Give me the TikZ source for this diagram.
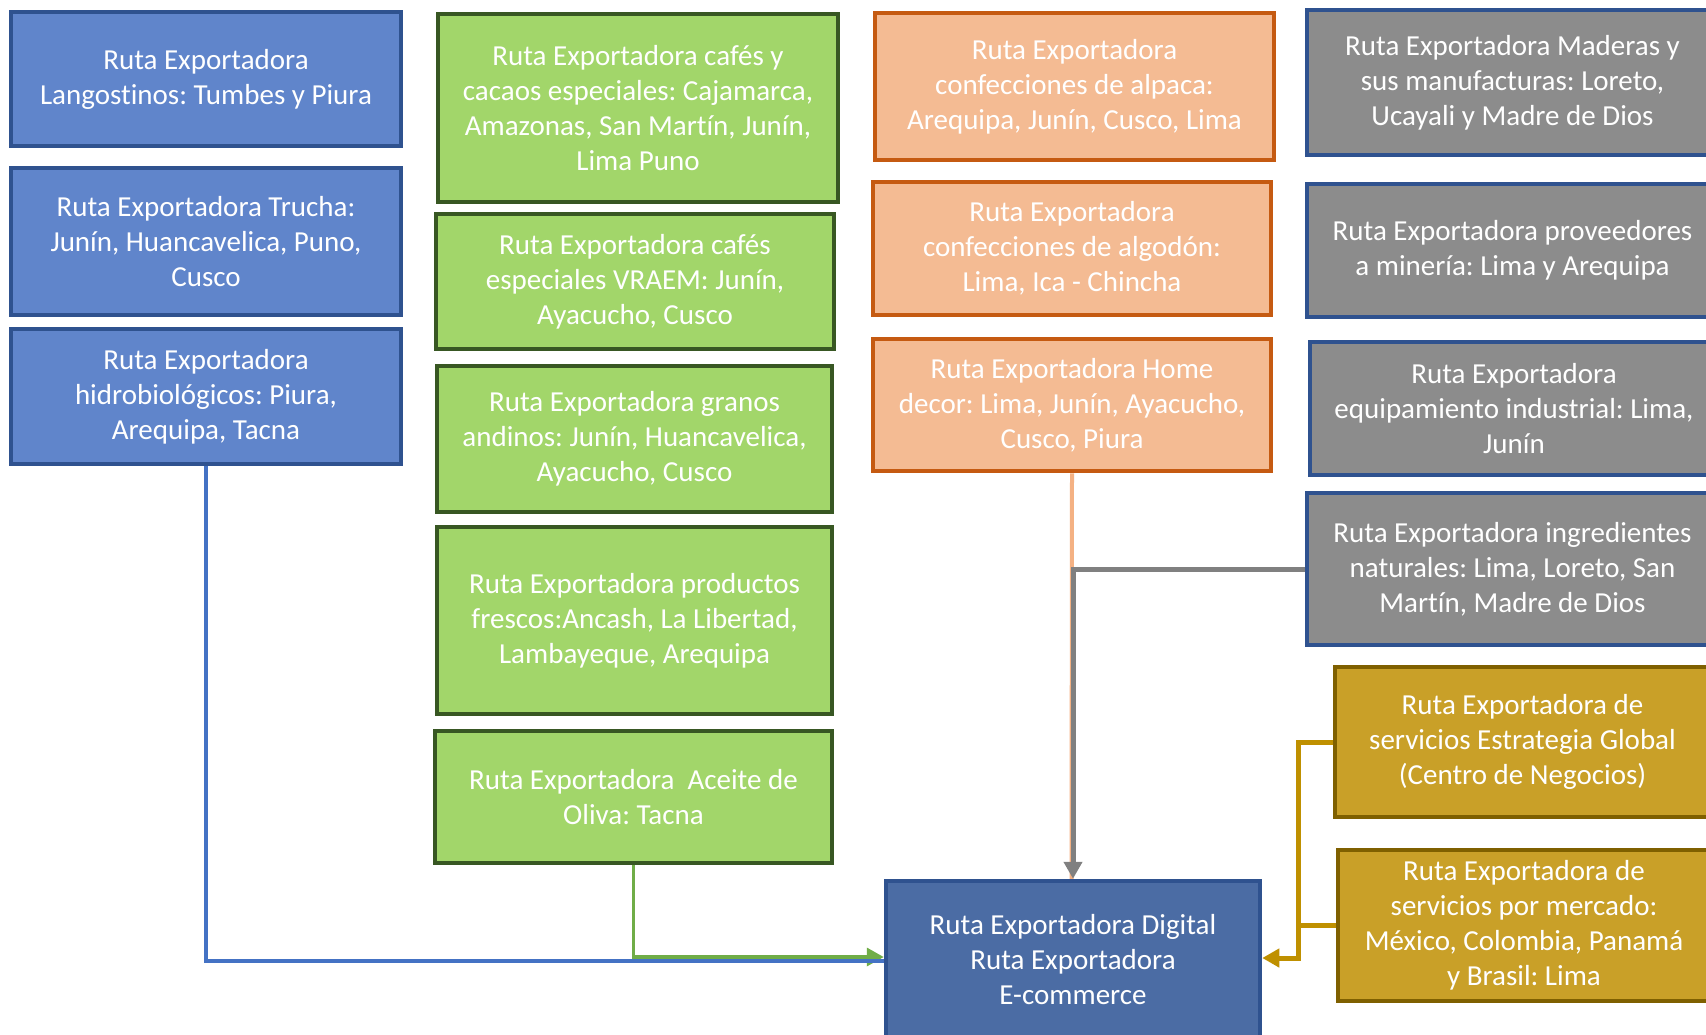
\documentclass[tikz,border=0pt]{standalone}
\usepackage{fontspec}
\setmainfont[Ligatures=NoCommon]{Carlito}
\frenchspacing
\usetikzlibrary{arrows.meta}
\definecolor{bfill}{HTML}{6085CB}
\definecolor{bdraw}{HTML}{2F528F}
\definecolor{tfill}{HTML}{4B6CA4}
\definecolor{gfill}{HTML}{A2D66A}
\definecolor{gdraw}{HTML}{385723}
\definecolor{ofill}{HTML}{F4BB93}
\definecolor{odraw}{HTML}{C55A11}
\definecolor{yfill}{HTML}{8C8C8C}
\definecolor{kfill}{HTML}{C9A028}
\definecolor{kdraw}{HTML}{7F6000}
\definecolor{cblue}{HTML}{4472C4}
\definecolor{cgreen}{HTML}{70AD47}
\definecolor{corange}{HTML}{F4B183}
\definecolor{cgray}{HTML}{808080}
\definecolor{cgold}{HTML}{BF9000}
\tikzset{
  rbox/.style={draw, line width=4.5pt, text=white, align=center, inner sep=0pt,
    font=\fontsize{29}{35}\selectfont\frenchspacing},
  bluebox/.style={rbox, fill=bfill, draw=bdraw},
  tgtbox/.style={rbox, fill=tfill, draw=bdraw},
  greenbox/.style={rbox, fill=gfill, draw=gdraw},
  orangebox/.style={rbox, fill=ofill, draw=odraw},
  graybox/.style={rbox, fill=yfill, draw=bdraw},
  goldbox/.style={rbox, fill=kfill, draw=kdraw},
  conn/.style={line width=#1},
  tip/.style={-{Triangle[length=17pt,width=18pt]}},
}
\begin{document}
\begin{tikzpicture}[x=1pt,y=-1pt]
\useasboundingbox (0,0) rectangle (1706,1034);
\clip (0,0) rectangle (1706,1034);
\fill[white] (0,0) rectangle (1706,1034);
% blue column
\node[bluebox, minimum width=390pt, minimum height=134pt] (b1) at (206,79) {Ruta Exportadora\\Langostinos: Tumbes y Piura};
\node[bluebox, minimum width=390pt, minimum height=147pt] (b2) at (206,241.5) {Ruta Exportadora Trucha:\\Junín, Huancavelica, Puno,\\Cusco};
\node[bluebox, minimum width=390pt, minimum height=135pt] (b3) at (206,396.5) {Ruta Exportadora\\hidrobiológicos: Piura,\\Arequipa, Tacna};
% green column
\node[greenbox, minimum width=400pt, minimum height=188pt] (g1) at (638,108) {Ruta Exportadora cafés y\\cacaos especiales: Cajamarca,\\Amazonas, San Martín, Junín,\\Lima Puno};
\node[greenbox, minimum width=398pt, minimum height=135pt] (g2) at (635,281.5) {Ruta Exportadora cafés\\especiales VRAEM: Junín,\\Ayacucho, Cusco};
\node[greenbox, minimum width=395pt, minimum height=146pt] (g3) at (634.5,439) {Ruta Exportadora granos\\andinos: Junín, Huancavelica,\\Ayacucho, Cusco};
\node[greenbox, minimum width=395pt, minimum height=187pt] (g4) at (634.5,620.5) {Ruta Exportadora productos\\frescos:Ancash, La Libertad,\\Lambayeque, Arequipa};
\node[greenbox, minimum width=397pt, minimum height=132pt] (g5) at (633.5,797) {Ruta Exportadora\ \ Aceite de\\Oliva: Tacna};
% orange column
\node[orangebox, minimum width=399pt, minimum height=147pt] (o1) at (1074.5,86.5) {Ruta Exportadora\\confecciones de alpaca:\\Arequipa, Junín, Cusco, Lima};
\node[orangebox, minimum width=398pt, minimum height=133pt] (o2) at (1072,248.5) {Ruta Exportadora\\confecciones de algodón:\\Lima, Ica - Chincha};
\node[orangebox, minimum width=398pt, minimum height=132pt] (o3) at (1072,405) {Ruta Exportadora Home\\decor: Lima, Junín, Ayacucho,\\Cusco, Piura};
% gray column
\node[graybox, minimum width=411pt, minimum height=145pt] (y1) at (1512.5,82.5) {Ruta Exportadora Maderas y\\sus manufacturas: Loreto,\\Ucayali y Madre de Dios};
\node[graybox, minimum width=411pt, minimum height=133pt] (y2) at (1512.5,250.5) {Ruta Exportadora proveedores\\a minería: Lima y Arequipa};
\node[graybox, minimum width=408pt, minimum height=133pt] (y3) at (1514,408.5) {Ruta Exportadora\\equipamiento industrial: Lima,\\Junín};
\node[graybox, minimum width=411pt, minimum height=152pt] (y4) at (1512.5,569) {Ruta Exportadora ingredientes\\naturales: Lima, Loreto, San\\Martín, Madre de Dios};
% gold column
\node[goldbox, minimum width=375pt, minimum height=150pt] (k1) at (1522.5,742) {Ruta Exportadora de\\servicios Estrategia Global\\(Centro de Negocios)};
\node[goldbox, minimum width=372pt, minimum height=151pt] (k2) at (1524,925.5) {Ruta Exportadora de\\servicios por mercado:\\México, Colombia, Panamá\\y Brasil: Lima};
% target
\node[tgtbox, minimum width=374pt, minimum height=158pt] (t) at (1073,960) {Ruta Exportadora Digital\\Ruta Exportadora\\E-commerce};
% connectors
\draw[conn=4pt, draw=corange] (o3.south) -- ([xshift=-1.5pt]t.north);
\draw[conn=5pt, draw=cgray, tip] (y4.west) -| (t.north);
\draw[conn=3.5pt, draw=cgreen, tip] (g5.south) |- ([yshift=3pt]t.west);
\draw[conn=4.5pt, draw=cblue] (b3.south) |- ([yshift=-1pt]t.west);
\coordinate (kj) at (1298,742);
\draw[conn=5pt, draw=cgold, tip] (k1.west) -- (kj) |- ([yshift=2pt]t.east);
\draw[conn=5pt, draw=cgold] (k2.west) -- (k2.west -| kj);
\end{tikzpicture}
\end{document}
